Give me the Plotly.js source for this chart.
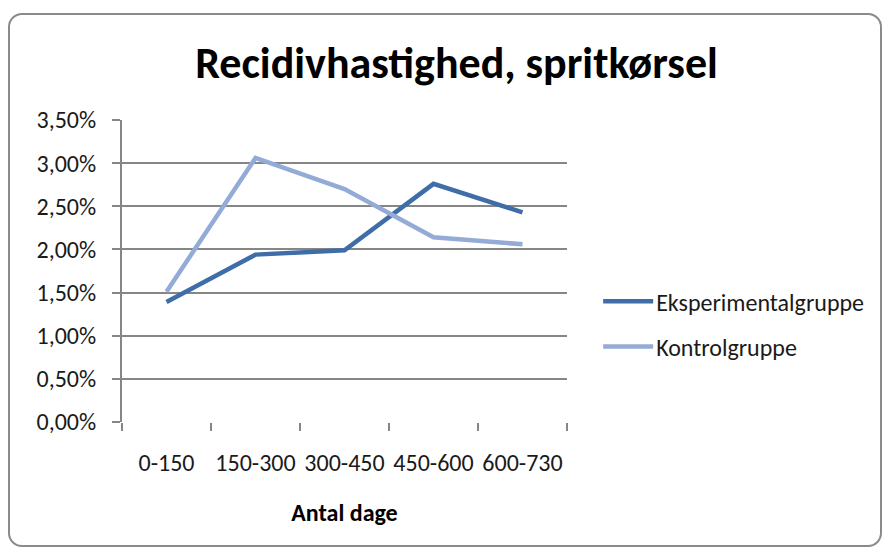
<!DOCTYPE html>
<html>
<head>
<meta charset="utf-8">
<script src="https://cdn.plot.ly/plotly-3.0.1.min.js"></script>
<style>
  html, body { margin: 0; padding: 0; background: #ffffff; }
  #wrap { position: relative; width: 883px; height: 548px; overflow: hidden; }
  #chart { position: absolute; left: 0; top: 0; width: 883px; height: 548px; }
  #frame { position: absolute; left: 8px; top: 13px; width: 874px; height: 534px;
           border: 2px solid #8a8a8a; border-radius: 14px; pointer-events: none; box-sizing: border-box; }
</style>
</head>
<body>
<div id="wrap">
  <div id="chart"></div>
  <div id="frame"></div>
</div>
<script>
const categories = ["0-150", "150-300", "300-450", "450-600", "600-730"];
const eksperimental = [0.0139, 0.0194, 0.0199, 0.0276, 0.0243];
const kontrol = [0.0151, 0.0306, 0.0270, 0.0214, 0.0206];
const seriesNames = ["Eksperimentalgruppe", "Kontrolgruppe"];
const yTicks = [0, 0.005, 0.01, 0.015, 0.02, 0.025, 0.03, 0.035];

const font = "Carlito, Calibri, 'Liberation Sans Narrow', 'DejaVu Sans Condensed', Arial, sans-serif";
const txt = "#1a1a1a";

const traces = [
  { x: categories, y: eksperimental, name: seriesNames[0], type: "scatter", mode: "lines",
    line: { color: "#3F6DA8", width: 4.5 }, legendgroup: "a" },
  { x: categories, y: kontrol, name: seriesNames[1], type: "scatter", mode: "lines",
    line: { color: "#93ABD6", width: 4.5 }, legendgroup: "b" }
];

const layout = {
  width: 883, height: 548,
  separators: ",.",
  paper_bgcolor: "rgba(0,0,0,0)",
  plot_bgcolor: "#ffffff",
  margin: { l: 122, r: 316, t: 120, b: 126 },
  font: { family: font, color: txt },
  title: { text: "<b>Recidivhastighed, spritkørsel</b>", x: 0.517, xanchor: "center", y: 0.886, yanchor: "middle",
           font: { size: 44, family: font, color: "#000000" } },
  xaxis: {
    type: "category", range: [-0.5, 4.5], tickson: "boundaries",
    ticks: "outside", ticklen: 8, tickcolor: "#868686", tickwidth: 2,
    ticklabelstandoff: 24, tickangle: 0,
    showgrid: false, showline: false, zeroline: false,
    tickfont: { size: 24, family: font, color: txt },
    title: { text: "<b>Antal dage</b>", font: { size: 24, family: font, color: "#000000" }, standoff: 28 }
  },
  yaxis: {
    range: [0, 0.035], tickvals: yTicks, tickformat: ".2%",
    ticks: "outside", ticklen: 8, tickcolor: "#868686", tickwidth: 2,
    ticklabelstandoff: 11,
    showgrid: true, gridcolor: "#868686", gridwidth: 2,
    showline: true, linecolor: "#868686", linewidth: 2, zeroline: false,
    tickfont: { size: 24, family: font, color: txt }, automargin: false
  },
  showlegend: true,
  legend: {
    x: 1.07, xanchor: "left", y: 0.324, yanchor: "middle",
    font: { size: 24, family: font, color: txt },
    itemwidth: 48,
    tracegroupgap: 11, bgcolor: "rgba(0,0,0,0)"
  }
};

Plotly.newPlot("chart", traces, layout, { displayModeBar: false, staticPlot: true }).then(function () {
  document.querySelectorAll("#chart .legendlines path").forEach(function (p) {
    p.setAttribute("d", "M5,0h50");
  });
});
</script>
</body>
</html>
